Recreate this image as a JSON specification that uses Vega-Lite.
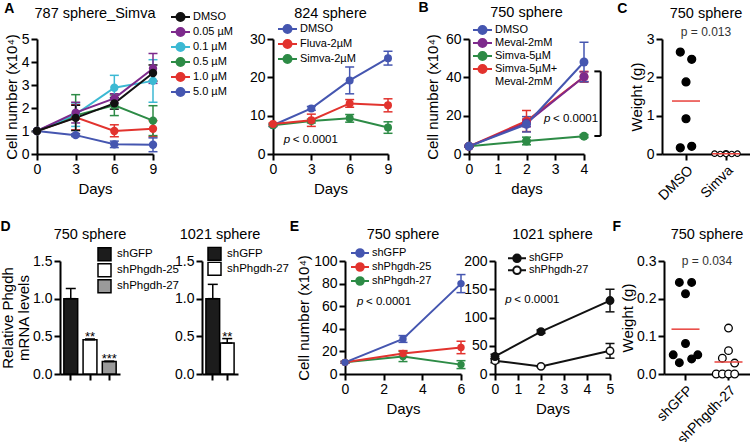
{
"$schema": "https://vega.github.io/schema/vega-lite/v6.json",
"padding": {"left": 0, "top": 0, "right": 0, "bottom": 0},
"spacing": 16,
"resolve": {"scale": {"color": "independent", "fill": "independent", "size": "independent", "xOffset": "independent"}, "legend": {"color": "independent", "fill": "independent", "size": "independent"}},
"config": {
  "font": "Liberation Sans",
  "view": {"stroke": null},
  "axis": {"grid": false, "domainColor": "#000", "domainWidth": 2, "tickColor": "#000", "tickWidth": 2, "tickSize": 6, "labelColor": "#000", "labelFontSize": 14, "labelPadding": 2, "titleColor": "#000", "titleFontSize": 15, "titleFontWeight": "normal", "titlePadding": 3},
  "legend": {"labelFontSize": 11, "labelColor": "#000", "padding": 0, "titlePadding": 0, "labelLimit": 300, "rowPadding": 0},
  "title": {"anchor": "start", "frame": "bounds", "fontSize": 14, "fontWeight": "bold", "color": "#000"},
  "text": {"color": "#000"}
},
"vconcat": [
{"hconcat": [
 {
  "width": 116, "height": 115,
  "title": {"text": "A", "offset": -10},
  "data": {"values": [
   {"t":"5.0 µM","d":0,"m":1,"lo":1,"hi":1},
   {"t":"5.0 µM","d":3,"m":0.82,"lo":0.76,"hi":0.88},
   {"t":"5.0 µM","d":6,"m":0.42,"lo":0.28,"hi":0.56},
   {"t":"5.0 µM","d":9,"m":0.4,"lo":0.1,"hi":0.7},
   {"t":"1.0 µM","d":0,"m":1,"lo":1,"hi":1},
   {"t":"1.0 µM","d":3,"m":1.6,"lo":1.05,"hi":2.15},
   {"t":"1.0 µM","d":6,"m":1.0,"lo":0.75,"hi":1.27},
   {"t":"1.0 µM","d":9,"m":1.1,"lo":0.75,"hi":1.45},
   {"t":"0.5 µM","d":0,"m":1,"lo":1,"hi":1},
   {"t":"0.5 µM","d":3,"m":1.68,"lo":0.8,"hi":2.58},
   {"t":"0.5 µM","d":6,"m":2.12,"lo":1.67,"hi":2.57},
   {"t":"0.5 µM","d":9,"m":1.45,"lo":0.8,"hi":2.1},
   {"t":"0.1 µM","d":0,"m":1,"lo":1,"hi":1},
   {"t":"0.1 µM","d":3,"m":1.72,"lo":1.2,"hi":2.22},
   {"t":"0.1 µM","d":6,"m":2.88,"lo":2.38,"hi":3.42},
   {"t":"0.1 µM","d":9,"m":3.18,"lo":2.25,"hi":4.1},
   {"t":"0.05 µM","d":0,"m":1,"lo":1,"hi":1},
   {"t":"0.05 µM","d":3,"m":1.8,"lo":1.35,"hi":2.25},
   {"t":"0.05 µM","d":6,"m":2.42,"lo":2.22,"hi":2.62},
   {"t":"0.05 µM","d":9,"m":3.72,"lo":3.07,"hi":4.37},
   {"t":"DMSO","d":0,"m":1,"lo":1,"hi":1},
   {"t":"DMSO","d":3,"m":1.57,"lo":1.02,"hi":2.12},
   {"t":"DMSO","d":6,"m":2.2,"lo":1.95,"hi":2.45},
   {"t":"DMSO","d":9,"m":3.52,"lo":3.17,"hi":3.87}
  ]},
  "layer": [
   {"mark": {"type":"errorbar","ticks":true,"size":9,"thickness":1.5,"opacity":1},
    "encoding": {
     "x": {"field":"d","type":"quantitative","scale":{"domain":[0,9],"nice":false},"axis":{"values":[0,3,6,9],"labelFlush":false,"titlePadding":5},"title":"Days"},
     "y": {"field":"lo","type":"quantitative","scale":{"domain":[0,5],"nice":false},"axis":{"values":[0,1,2,3,4,5],"titlePadding":2},"title":"Cell number (x10⁴)"},
     "y2": {"field":"hi"},
     "color": {"field":"t","type":"nominal","scale":{"domain":["DMSO","0.05 µM","0.1 µM","0.5 µM","1.0 µM","5.0 µM"],"range":["#111111","#7D2A8C","#3CB9D3","#2D8B46","#E2332E","#4556B0"]},
       "legend":{"orient":"none","legendX":133,"legendY":-29.25,"clipHeight":14.5,"title":null,"symbolType":"M-1,0L-0.42,0M0.42,0L1,0M-0.42,0A0.42,0.42,0,1,0,0.42,0A0.42,0.42,0,1,0,-0.42,0Z","symbolSize":361,"symbolStrokeWidth":2,"labelOffset":2,"labelFontSize":11,
        "encode":{"symbols":{"update":{"fill":{"signal":"['#111111','#7D2A8C','#3CB9D3','#2D8B46','#E2332E','#4556B0'][indexof(['DMSO','0.05 µM','0.1 µM','0.5 µM','1.0 µM','5.0 µM'], datum.value)]"},"stroke":{"signal":"['#111111','#7D2A8C','#3CB9D3','#2D8B46','#E2332E','#4556B0'][indexof(['DMSO','0.05 µM','0.1 µM','0.5 µM','1.0 µM','5.0 µM'], datum.value)]"}}}}}}
    }},
   {"mark": {"type":"line","strokeWidth":2},
    "encoding": {
     "x": {"field":"d","type":"quantitative","scale":{"domain":[0,9],"nice":false},"axis":{"values":[0,3,6,9],"labelFlush":false,"titlePadding":5},"title":"Days"},
     "y": {"field":"m","type":"quantitative","scale":{"domain":[0,5],"nice":false},"axis":{"values":[0,1,2,3,4,5],"titlePadding":2},"title":"Cell number (x10⁴)"},
     "color": {"field":"t","type":"nominal","scale":{"domain":["DMSO","0.05 µM","0.1 µM","0.5 µM","1.0 µM","5.0 µM"],"range":["#111111","#7D2A8C","#3CB9D3","#2D8B46","#E2332E","#4556B0"]},
       "legend":{"orient":"none","legendX":133,"legendY":-29.25,"clipHeight":14.5,"title":null,"symbolType":"M-1,0L-0.42,0M0.42,0L1,0M-0.42,0A0.42,0.42,0,1,0,0.42,0A0.42,0.42,0,1,0,-0.42,0Z","symbolSize":361,"symbolStrokeWidth":2,"labelOffset":2,"labelFontSize":11,
        "encode":{"symbols":{"update":{"fill":{"signal":"['#111111','#7D2A8C','#3CB9D3','#2D8B46','#E2332E','#4556B0'][indexof(['DMSO','0.05 µM','0.1 µM','0.5 µM','1.0 µM','5.0 µM'], datum.value)]"},"stroke":{"signal":"['#111111','#7D2A8C','#3CB9D3','#2D8B46','#E2332E','#4556B0'][indexof(['DMSO','0.05 µM','0.1 µM','0.5 µM','1.0 µM','5.0 µM'], datum.value)]"}}}}}}
    }},
   {"mark": {"type":"point","filled":true,"size":70,"opacity":1},
    "encoding": {
     "x": {"field":"d","type":"quantitative","scale":{"domain":[0,9],"nice":false},"axis":{"values":[0,3,6,9],"labelFlush":false,"titlePadding":5},"title":"Days"},
     "y": {"field":"m","type":"quantitative","scale":{"domain":[0,5],"nice":false},"axis":{"values":[0,1,2,3,4,5],"titlePadding":2},"title":"Cell number (x10⁴)"},
     "color": {"field":"t","type":"nominal","scale":{"domain":["DMSO","0.05 µM","0.1 µM","0.5 µM","1.0 µM","5.0 µM"],"range":["#111111","#7D2A8C","#3CB9D3","#2D8B46","#E2332E","#4556B0"]},
       "legend":{"orient":"none","legendX":133,"legendY":-29.25,"clipHeight":14.5,"title":null,"symbolType":"M-1,0L-0.42,0M0.42,0L1,0M-0.42,0A0.42,0.42,0,1,0,0.42,0A0.42,0.42,0,1,0,-0.42,0Z","symbolSize":361,"symbolStrokeWidth":2,"labelOffset":2,"labelFontSize":11,
        "encode":{"symbols":{"update":{"fill":{"signal":"['#111111','#7D2A8C','#3CB9D3','#2D8B46','#E2332E','#4556B0'][indexof(['DMSO','0.05 µM','0.1 µM','0.5 µM','1.0 µM','5.0 µM'], datum.value)]"},"stroke":{"signal":"['#111111','#7D2A8C','#3CB9D3','#2D8B46','#E2332E','#4556B0'][indexof(['DMSO','0.05 µM','0.1 µM','0.5 µM','1.0 µM','5.0 µM'], datum.value)]"}}}}}}
    }},
   {"data": {"values":[{"label":"787 sphere_Simva"}]},
    "mark": {"type":"text","fontSize":14.5,"baseline":"alphabetic"},
    "encoding": {"text":{"field":"label"},"y":{"datum":5.91,"type":"quantitative","scale":{"domain":[0,5],"nice":false},"axis":{"values":[0,1,2,3,4,5],"titlePadding":2},"title":"Cell number (x10⁴)"}}}
  ]
 },
 {"width": 120, "height": 10, "data": {"values": []}, "mark": "point", "encoding": {}},
 {
  "width": 115, "height": 115,
  "data": {"values": [
   {"t":"DMSO","d":0,"m":7.5,"lo":7.2,"hi":7.8},
   {"t":"DMSO","d":3,"m":11.9,"lo":11.4,"hi":12.4},
   {"t":"DMSO","d":6,"m":19.2,"lo":15.7,"hi":22.7},
   {"t":"DMSO","d":9,"m":25.0,"lo":23.2,"hi":26.8},
   {"t":"Simva-2µM","d":0,"m":7.5,"lo":7.2,"hi":7.8},
   {"t":"Simva-2µM","d":3,"m":8.6,"lo":8.1,"hi":9.1},
   {"t":"Simva-2µM","d":6,"m":9.3,"lo":8.3,"hi":10.3},
   {"t":"Simva-2µM","d":9,"m":6.9,"lo":5.4,"hi":8.4},
   {"t":"Fluva-2µM","d":0,"m":7.8,"lo":7.5,"hi":8.1},
   {"t":"Fluva-2µM","d":3,"m":8.8,"lo":7.2,"hi":10.4},
   {"t":"Fluva-2µM","d":6,"m":13.2,"lo":12.2,"hi":14.2},
   {"t":"Fluva-2µM","d":9,"m":12.7,"lo":11.0,"hi":14.4}
  ]},
  "layer": [
   {"mark": {"type":"errorbar","ticks":true,"size":9,"thickness":1.5,"opacity":1},
    "encoding": {
     "x": {"field":"d","type":"quantitative","scale":{"domain":[0,9],"nice":false},"axis":{"values":[0,3,6,9],"labelFlush":false,"titlePadding":5},"title":"Days"},
     "y": {"field":"lo","type":"quantitative","scale":{"domain":[0,30],"nice":false},"axis":{"values":[0,10,20,30]},"title":null},
     "y2": {"field":"hi"},
     "color": {"field":"t","type":"nominal","scale":{"domain":["DMSO","Fluva-2µM","Simva-2µM"],"range":["#4556B0","#E2332E","#2D8B46"]},
       "legend":{"orient":"none","legendX":4,"legendY":-17.25,"clipHeight":14.5,"title":null,"symbolType":"M-1,0L-0.42,0M0.42,0L1,0M-0.42,0A0.42,0.42,0,1,0,0.42,0A0.42,0.42,0,1,0,-0.42,0Z","symbolSize":361,"symbolStrokeWidth":2,"labelOffset":2,"labelFontSize":11,
        "encode":{"symbols":{"update":{"fill":{"signal":"['#4556B0','#E2332E','#2D8B46'][indexof(['DMSO','Fluva-2µM','Simva-2µM'], datum.value)]"},"stroke":{"signal":"['#4556B0','#E2332E','#2D8B46'][indexof(['DMSO','Fluva-2µM','Simva-2µM'], datum.value)]"}}}}}}
    }},
   {"mark": {"type":"line","strokeWidth":2},
    "encoding": {
     "x": {"field":"d","type":"quantitative","scale":{"domain":[0,9],"nice":false},"axis":{"values":[0,3,6,9],"labelFlush":false,"titlePadding":5},"title":"Days"},
     "y": {"field":"m","type":"quantitative","scale":{"domain":[0,30],"nice":false},"axis":{"values":[0,10,20,30]},"title":null},
     "color": {"field":"t","type":"nominal","scale":{"domain":["DMSO","Fluva-2µM","Simva-2µM"],"range":["#4556B0","#E2332E","#2D8B46"]},
       "legend":{"orient":"none","legendX":4,"legendY":-17.25,"clipHeight":14.5,"title":null,"symbolType":"M-1,0L-0.42,0M0.42,0L1,0M-0.42,0A0.42,0.42,0,1,0,0.42,0A0.42,0.42,0,1,0,-0.42,0Z","symbolSize":361,"symbolStrokeWidth":2,"labelOffset":2,"labelFontSize":11,
        "encode":{"symbols":{"update":{"fill":{"signal":"['#4556B0','#E2332E','#2D8B46'][indexof(['DMSO','Fluva-2µM','Simva-2µM'], datum.value)]"},"stroke":{"signal":"['#4556B0','#E2332E','#2D8B46'][indexof(['DMSO','Fluva-2µM','Simva-2µM'], datum.value)]"}}}}}}
    }},
   {"mark": {"type":"point","filled":true,"size":64,"opacity":1},
    "encoding": {
     "x": {"field":"d","type":"quantitative","scale":{"domain":[0,9],"nice":false},"axis":{"values":[0,3,6,9],"labelFlush":false,"titlePadding":5},"title":"Days"},
     "y": {"field":"m","type":"quantitative","scale":{"domain":[0,30],"nice":false},"axis":{"values":[0,10,20,30]},"title":null},
     "color": {"field":"t","type":"nominal","scale":{"domain":["DMSO","Fluva-2µM","Simva-2µM"],"range":["#4556B0","#E2332E","#2D8B46"]},
       "legend":{"orient":"none","legendX":4,"legendY":-17.25,"clipHeight":14.5,"title":null,"symbolType":"M-1,0L-0.42,0M0.42,0L1,0M-0.42,0A0.42,0.42,0,1,0,0.42,0A0.42,0.42,0,1,0,-0.42,0Z","symbolSize":361,"symbolStrokeWidth":2,"labelOffset":2,"labelFontSize":11,
        "encode":{"symbols":{"update":{"fill":{"signal":"['#4556B0','#E2332E','#2D8B46'][indexof(['DMSO','Fluva-2µM','Simva-2µM'], datum.value)]"},"stroke":{"signal":"['#4556B0','#E2332E','#2D8B46'][indexof(['DMSO','Fluva-2µM','Simva-2µM'], datum.value)]"}}}}}}
    }},
   {"data": {"values":[{"label":"824 sphere"}]},
    "mark": {"type":"text","fontSize":14.5,"baseline":"alphabetic"},
    "encoding": {"text":{"field":"label"},"y":{"datum":35.48,"type":"quantitative","scale":{"domain":[0,30],"nice":false},"axis":{"values":[0,10,20,30]},"title":null}}},
   {"data": {"values":[{"a":"p","b":"< 0.0001"}]},
    "layer": [
     {"mark": {"type":"text","fontSize":11.5,"fontStyle":"italic","align":"left","baseline":"middle"},
      "encoding": {"text":{"field":"a"},"x":{"datum":0.84,"type":"quantitative","scale":{"domain":[0,9],"nice":false},"axis":{"values":[0,3,6,9],"labelFlush":false,"titlePadding":5},"title":"Days"},"y":{"datum":3.57,"type":"quantitative","scale":{"domain":[0,30],"nice":false},"axis":{"values":[0,10,20,30]},"title":null}}},
     {"mark": {"type":"text","fontSize":11.5,"align":"left","baseline":"middle","dx":9},
      "encoding": {"text":{"field":"b"},"x":{"datum":0.84,"type":"quantitative","scale":{"domain":[0,9],"nice":false},"axis":{"values":[0,3,6,9],"labelFlush":false,"titlePadding":5},"title":"Days"},"y":{"datum":3.57,"type":"quantitative","scale":{"domain":[0,30],"nice":false},"axis":{"values":[0,10,20,30]},"title":null}}}
    ]}
  ]
 },
 {"width": 81, "height": 10, "data": {"values": []}, "mark": "point", "encoding": {}},
 {
  "width": 115, "height": 115,
  "title": {"text": "B", "dx": -7, "offset": -10},
  "data": {"values": [
   {"t":"Simva-5µM","d":0,"m":4,"lo":3.5,"hi":4.5},
   {"t":"Simva-5µM","d":2,"m":6.8,"lo":4.8,"hi":8.8},
   {"t":"Simva-5µM","d":4,"m":9.3,"lo":8.5,"hi":10.1},
   {"t":"Simva-5µM+Meval-2mM","d":0,"m":4,"lo":3.5,"hi":4.5},
   {"t":"Simva-5µM+Meval-2mM","d":2,"m":17.2,"lo":11.7,"hi":22.7},
   {"t":"Simva-5µM+Meval-2mM","d":4,"m":40.3,"lo":37.5,"hi":43.1},
   {"t":"Meval-2mM","d":0,"m":4,"lo":3.5,"hi":4.5},
   {"t":"Meval-2mM","d":2,"m":16.2,"lo":14.2,"hi":18.2},
   {"t":"Meval-2mM","d":4,"m":40.3,"lo":37.8,"hi":42.8},
   {"t":"DMSO","d":0,"m":4,"lo":3.5,"hi":4.5},
   {"t":"DMSO","d":2,"m":15.5,"lo":11.5,"hi":19.5},
   {"t":"DMSO","d":4,"m":48,"lo":37.7,"hi":58.3}
  ]},
  "layer": [
   {"mark": {"type":"errorbar","ticks":true,"size":9,"thickness":1.5,"opacity":1},
    "encoding": {
     "x": {"field":"d","type":"quantitative","scale":{"domain":[0,4],"nice":false},"axis":{"values":[0,1,2,3,4],"labelFlush":false,"titlePadding":5},"title":"days"},
     "y": {"field":"lo","type":"quantitative","scale":{"domain":[0,60],"nice":false},"axis":{"values":[0,20,40,60],"titlePadding":5},"title":"Cell number (x10⁴)"},
     "y2": {"field":"hi"},
     "color": {"field":"t","type":"nominal","scale":{"domain":["DMSO","Meval-2mM","Simva-5µM","Simva-5µM+Meval-2mM"],"range":["#4556B0","#7D2A8C","#2D8B46","#E2332E"]},
       "legend":{"orient":"none","legendX":3,"legendY":-15.5,"clipHeight":13,"title":null,"symbolType":"M-1,0L-0.42,0M0.42,0L1,0M-0.42,0A0.42,0.42,0,1,0,0.42,0A0.42,0.42,0,1,0,-0.42,0Z","symbolSize":361,"symbolStrokeWidth":2,"labelOffset":2,"labelFontSize":11,"labelExpr":"datum.label == 'Simva-5µM+Meval-2mM' ? ['Simva-5µM+', 'Meval-2mM'] : datum.label",
        "encode":{"symbols":{"update":{"fill":{"signal":"['#4556B0','#7D2A8C','#2D8B46','#E2332E'][indexof(['DMSO','Meval-2mM','Simva-5µM','Simva-5µM+Meval-2mM'], datum.value)]"},"stroke":{"signal":"['#4556B0','#7D2A8C','#2D8B46','#E2332E'][indexof(['DMSO','Meval-2mM','Simva-5µM','Simva-5µM+Meval-2mM'], datum.value)]"}}}}}}
    }},
   {"mark": {"type":"line","strokeWidth":2},
    "encoding": {
     "x": {"field":"d","type":"quantitative","scale":{"domain":[0,4],"nice":false},"axis":{"values":[0,1,2,3,4],"labelFlush":false,"titlePadding":5},"title":"days"},
     "y": {"field":"m","type":"quantitative","scale":{"domain":[0,60],"nice":false},"axis":{"values":[0,20,40,60],"titlePadding":5},"title":"Cell number (x10⁴)"},
     "color": {"field":"t","type":"nominal","scale":{"domain":["DMSO","Meval-2mM","Simva-5µM","Simva-5µM+Meval-2mM"],"range":["#4556B0","#7D2A8C","#2D8B46","#E2332E"]},
       "legend":{"orient":"none","legendX":3,"legendY":-15.5,"clipHeight":13,"title":null,"symbolType":"M-1,0L-0.42,0M0.42,0L1,0M-0.42,0A0.42,0.42,0,1,0,0.42,0A0.42,0.42,0,1,0,-0.42,0Z","symbolSize":361,"symbolStrokeWidth":2,"labelOffset":2,"labelFontSize":11,"labelExpr":"datum.label == 'Simva-5µM+Meval-2mM' ? ['Simva-5µM+', 'Meval-2mM'] : datum.label",
        "encode":{"symbols":{"update":{"fill":{"signal":"['#4556B0','#7D2A8C','#2D8B46','#E2332E'][indexof(['DMSO','Meval-2mM','Simva-5µM','Simva-5µM+Meval-2mM'], datum.value)]"},"stroke":{"signal":"['#4556B0','#7D2A8C','#2D8B46','#E2332E'][indexof(['DMSO','Meval-2mM','Simva-5µM','Simva-5µM+Meval-2mM'], datum.value)]"}}}}}}
    }},
   {"mark": {"type":"point","filled":true,"size":80,"opacity":1},
    "encoding": {
     "x": {"field":"d","type":"quantitative","scale":{"domain":[0,4],"nice":false},"axis":{"values":[0,1,2,3,4],"labelFlush":false,"titlePadding":5},"title":"days"},
     "y": {"field":"m","type":"quantitative","scale":{"domain":[0,60],"nice":false},"axis":{"values":[0,20,40,60],"titlePadding":5},"title":"Cell number (x10⁴)"},
     "color": {"field":"t","type":"nominal","scale":{"domain":["DMSO","Meval-2mM","Simva-5µM","Simva-5µM+Meval-2mM"],"range":["#4556B0","#7D2A8C","#2D8B46","#E2332E"]},
       "legend":{"orient":"none","legendX":3,"legendY":-15.5,"clipHeight":13,"title":null,"symbolType":"M-1,0L-0.42,0M0.42,0L1,0M-0.42,0A0.42,0.42,0,1,0,0.42,0A0.42,0.42,0,1,0,-0.42,0Z","symbolSize":361,"symbolStrokeWidth":2,"labelOffset":2,"labelFontSize":11,"labelExpr":"datum.label == 'Simva-5µM+Meval-2mM' ? ['Simva-5µM+', 'Meval-2mM'] : datum.label",
        "encode":{"symbols":{"update":{"fill":{"signal":"['#4556B0','#7D2A8C','#2D8B46','#E2332E'][indexof(['DMSO','Meval-2mM','Simva-5µM','Simva-5µM+Meval-2mM'], datum.value)]"},"stroke":{"signal":"['#4556B0','#7D2A8C','#2D8B46','#E2332E'][indexof(['DMSO','Meval-2mM','Simva-5µM','Simva-5µM+Meval-2mM'], datum.value)]"}}}}}}
    }},
   {"data": {"values":[{}]},
    "mark": {"type":"rule","strokeWidth":2,"color":"#000"},
    "encoding": {"x":{"datum":4.58,"type":"quantitative","scale":{"domain":[0,4],"nice":false},"axis":{"values":[0,1,2,3,4],"labelFlush":false,"titlePadding":5},"title":"days"},"y":{"datum":9.4,"type":"quantitative","scale":{"domain":[0,60],"nice":false},"axis":{"values":[0,20,40,60],"titlePadding":5},"title":"Cell number (x10⁴)"},"y2":{"datum":43.1}}},
   {"data": {"values":[{}]},
    "mark": {"type":"rule","strokeWidth":2,"color":"#000"},
    "encoding": {"x":{"datum":4.36,"type":"quantitative","scale":{"domain":[0,4],"nice":false},"axis":{"values":[0,1,2,3,4],"labelFlush":false,"titlePadding":5},"title":"days"},"x2":{"datum":4.58},"y":{"datum":43.1,"type":"quantitative","scale":{"domain":[0,60],"nice":false},"axis":{"values":[0,20,40,60],"titlePadding":5},"title":"Cell number (x10⁴)"}}},
   {"data": {"values":[{}]},
    "mark": {"type":"rule","strokeWidth":2,"color":"#000"},
    "encoding": {"x":{"datum":4.36,"type":"quantitative","scale":{"domain":[0,4],"nice":false},"axis":{"values":[0,1,2,3,4],"labelFlush":false,"titlePadding":5},"title":"days"},"x2":{"datum":4.58},"y":{"datum":9.4,"type":"quantitative","scale":{"domain":[0,60],"nice":false},"axis":{"values":[0,20,40,60],"titlePadding":5},"title":"Cell number (x10⁴)"}}},
   {"data": {"values":[{"label":"750 sphere"}]},
    "mark": {"type":"text","fontSize":14.5,"baseline":"alphabetic"},
    "encoding": {"text":{"field":"label"},"y":{"datum":71.48,"type":"quantitative","scale":{"domain":[0,60],"nice":false},"axis":{"values":[0,20,40,60],"titlePadding":5},"title":"Cell number (x10⁴)"}}},
   {"data": {"values":[{"a":"p","b":"< 0.0001"}]},
    "layer": [
     {"mark": {"type":"text","fontSize":11.5,"fontStyle":"italic","align":"left","baseline":"middle"},
      "encoding": {"text":{"field":"a"},"x":{"datum":2.61,"type":"quantitative","scale":{"domain":[0,4],"nice":false},"axis":{"values":[0,1,2,3,4],"labelFlush":false,"titlePadding":5},"title":"days"},"y":{"datum":18.4,"type":"quantitative","scale":{"domain":[0,60],"nice":false},"axis":{"values":[0,20,40,60],"titlePadding":5},"title":"Cell number (x10⁴)"}}},
     {"mark": {"type":"text","fontSize":11.5,"align":"left","baseline":"middle","dx":9},
      "encoding": {"text":{"field":"b"},"x":{"datum":2.61,"type":"quantitative","scale":{"domain":[0,4],"nice":false},"axis":{"values":[0,1,2,3,4],"labelFlush":false,"titlePadding":5},"title":"days"},"y":{"datum":18.4,"type":"quantitative","scale":{"domain":[0,60],"nice":false},"axis":{"values":[0,20,40,60],"titlePadding":5},"title":"Cell number (x10⁴)"}}}
    ]}
  ]
 },
 {"width": 78, "height": 10, "data": {"values": []}, "mark": "point", "encoding": {}},
 {
  "width": 88, "height": 115,
  "title": {"text": "C", "dx": -12, "offset": -10},
  "data": {"values": [
   {"g":"DMSO","s":"c","w":2.66},{"g":"DMSO","s":"e","w":2.47},{"g":"DMSO","s":"d","w":1.88},
   {"g":"DMSO","s":"d","w":0.92},{"g":"DMSO","s":"c","w":0.16},{"g":"DMSO","s":"e","w":0.2},
   {"g":"Simva","s":"b","w":0.01},{"g":"Simva","s":"c","w":0.0},{"g":"Simva","s":"d","w":0.02},
   {"g":"Simva","s":"e","w":0.0},{"g":"Simva","s":"f","w":0.01},{"g":"Simva","s":"d","w":0.0}
  ]},
  "layer": [
   {"mark": {"type":"point","filled":true,"stroke":"#000","strokeWidth":1.2,"opacity":1},
    "encoding": {
     "x": {"field":"g","type":"nominal","scale":{"domain":["DMSO","Simva"],"paddingInner":0,"paddingOuter":0.1},"axis":{"labelAngle":-45,"labelPadding":3},"title":null},
     "xOffset": {"field":"s","type":"nominal","scale":{"domain":["a","b","c","d","e","f","g"],"paddingInner":0,"paddingOuter":0.5}},
     "y": {"field":"w","type":"quantitative","scale":{"domain":[0,3],"nice":false},"axis":{"values":[0,1,2,3],"titlePadding":2},"title":"Weight (g)"},
     "fill": {"field":"g","type":"nominal","scale":{"domain":["DMSO","Simva"],"range":["#000000","#ffffff"]},"legend":null},
     "size": {"field":"g","type":"ordinal","scale":{"domain":["DMSO","Simva"],"range":[64,30]},"legend":null}
    }},
   {"mark": {"type":"tick","color":"#E8413C","thickness":1.5,"size":28,"opacity":1},
    "encoding": {
     "x": {"field":"g","type":"nominal","scale":{"domain":["DMSO","Simva"],"paddingInner":0,"paddingOuter":0.1},"axis":{"labelAngle":-45,"labelPadding":3},"title":null},
     "y": {"aggregate":"mean","field":"w","type":"quantitative","scale":{"domain":[0,3],"nice":false},"axis":{"values":[0,1,2,3],"titlePadding":2},"title":"Weight (g)"}
    }},
   {"data": {"values":[{"label":"750 sphere"}]},
    "mark": {"type":"text","fontSize":14.5,"baseline":"alphabetic"},
    "encoding": {"text":{"field":"label"},"y":{"datum":3.535,"type":"quantitative","scale":{"domain":[0,3],"nice":false},"axis":{"values":[0,1,2,3],"titlePadding":2},"title":"Weight (g)"}}},
   {"data": {"values":[{"label":"p = 0.013"}]},
    "mark": {"type":"text","fontSize":12,"baseline":"alphabetic","color":"#333"},
    "encoding": {"text":{"field":"label"},"y":{"datum":3.09,"type":"quantitative","scale":{"domain":[0,3],"nice":false},"axis":{"values":[0,1,2,3],"titlePadding":2},"title":"Weight (g)"}}}
  ]
 }
], "spacing": 0, "bounds": "flush",
 "resolve": {"scale": {"color": "independent", "fill": "independent", "size": "independent", "xOffset": "independent"}, "legend": {"color": "independent", "fill": "independent", "size": "independent"}}},
{"hconcat": [
 {"width": 23, "height": 10, "data": {"values": []}, "mark": "point", "encoding": {}},
 {
  "width": 60, "height": 113,
  "title": {"text": "D", "offset": -7},
  "data": {"values": [
   {"g":"shGFP","m":1.0,"hi":1.135,"s":""},
   {"g":"shPhgdh-25","m":0.455,"hi":0.465,"s":"**"},
   {"g":"shPhgdh-27","m":0.165,"hi":0.17,"s":"***"}
  ]},
  "layer": [
   {"mark": {"type":"bar","stroke":"#000","strokeWidth":1.5,"opacity":1},
    "encoding": {
     "x": {"field":"g","type":"nominal","scale":{"domain":["shGFP","shPhgdh-25","shPhgdh-27"],"paddingInner":0.28,"paddingOuter":0.2},"axis":{"labels":false},"title":null},
     "y": {"field":"m","type":"quantitative","scale":{"domain":[0,1.5],"nice":false},"axis":{"values":[0,0.5,1,1.5],"format":".1f","titlePadding":1,"titleLineHeight":16},"title":["Relative Phgdh","mRNA levels"]},
     "fill": {"field":"g","type":"nominal","scale":{"domain":["shGFP","shPhgdh-25","shPhgdh-27"],"range":["#1c1c1c","#ffffff","#9a9a9a"]},
       "legend":{"orient":"none","legendX":37,"legendY":-14.45,"clipHeight":15.5,"title":null,"symbolType":"square","symbolSize":169,"symbolStrokeWidth":1.5,"symbolStrokeColor":"#000","labelOffset":5,"labelFontSize":11.5}}
    }},
   {"mark": {"type":"errorbar","ticks":true,"size":10,"thickness":1.5,"color":"#000","opacity":1},
    "encoding": {
     "x": {"field":"g","type":"nominal","scale":{"domain":["shGFP","shPhgdh-25","shPhgdh-27"],"paddingInner":0.28,"paddingOuter":0.2},"axis":{"labels":false},"title":null},
     "y": {"field":"m","type":"quantitative","scale":{"domain":[0,1.5],"nice":false},"axis":{"values":[0,0.5,1,1.5],"format":".1f","titlePadding":1,"titleLineHeight":16},"title":["Relative Phgdh","mRNA levels"]},
     "y2": {"field":"hi"}
    }},
   {"mark": {"type":"text","fontSize":13,"baseline":"alphabetic","dy":2},
    "encoding": {
     "x": {"field":"g","type":"nominal","scale":{"domain":["shGFP","shPhgdh-25","shPhgdh-27"],"paddingInner":0.28,"paddingOuter":0.2},"axis":{"labels":false},"title":null},
     "y": {"field":"hi","type":"quantitative","scale":{"domain":[0,1.5],"nice":false},"axis":{"values":[0,0.5,1,1.5],"format":".1f","titlePadding":1,"titleLineHeight":16},"title":["Relative Phgdh","mRNA levels"]},
     "text": {"field":"s"}
    }},
   {"data": {"values":[{"label":"750 sphere"}]},
    "mark": {"type":"text","fontSize":14.5,"baseline":"alphabetic"},
    "encoding": {"text":{"field":"label"},"y":{"datum":1.792,"type":"quantitative","scale":{"domain":[0,1.5],"nice":false},"axis":{"values":[0,0.5,1,1.5],"format":".1f","titlePadding":1,"titleLineHeight":16},"title":["Relative Phgdh","mRNA levels"]}}}
  ]
 },
 {"width": 82, "height": 10, "data": {"values": []}, "mark": "point", "encoding": {}},
 {
  "width": 36, "height": 113,
  "data": {"values": [
   {"g":"shGFP","m":1.0,"hi":1.19,"s":""},
   {"g":"shPhgdh-27","m":0.41,"hi":0.47,"s":"**"}
  ]},
  "layer": [
   {"mark": {"type":"bar","stroke":"#000","strokeWidth":1.5,"opacity":1},
    "encoding": {
     "x": {"field":"g","type":"nominal","scale":{"domain":["shGFP","shPhgdh-27"],"paddingInner":0.05,"paddingOuter":0.27},"axis":{"labels":false},"title":null},
     "y": {"field":"m","type":"quantitative","scale":{"domain":[0,1.5],"nice":false},"axis":{"values":[0,0.5,1,1.5],"format":".1f"},"title":null},
     "fill": {"field":"g","type":"nominal","scale":{"domain":["shGFP","shPhgdh-27"],"range":["#1c1c1c","#ffffff"]},
       "legend":{"orient":"none","legendX":5,"legendY":-14.6,"clipHeight":14.6,"title":null,"symbolType":"square","symbolSize":169,"symbolStrokeWidth":1.5,"symbolStrokeColor":"#000","labelOffset":5,"labelFontSize":11.5}}
    }},
   {"mark": {"type":"errorbar","ticks":true,"size":10,"thickness":1.5,"color":"#000","opacity":1},
    "encoding": {
     "x": {"field":"g","type":"nominal","scale":{"domain":["shGFP","shPhgdh-27"],"paddingInner":0.05,"paddingOuter":0.27},"axis":{"labels":false},"title":null},
     "y": {"field":"m","type":"quantitative","scale":{"domain":[0,1.5],"nice":false},"axis":{"values":[0,0.5,1,1.5],"format":".1f"},"title":null},
     "y2": {"field":"hi"}
    }},
   {"mark": {"type":"text","fontSize":13,"baseline":"alphabetic","dy":2},
    "encoding": {
     "x": {"field":"g","type":"nominal","scale":{"domain":["shGFP","shPhgdh-27"],"paddingInner":0.05,"paddingOuter":0.27},"axis":{"labels":false},"title":null},
     "y": {"field":"hi","type":"quantitative","scale":{"domain":[0,1.5],"nice":false},"axis":{"values":[0,0.5,1,1.5],"format":".1f"},"title":null},
     "text": {"field":"s"}
    }},
   {"data": {"values":[{"label":"1021 sphere"}]},
    "mark": {"type":"text","fontSize":14.5,"baseline":"alphabetic"},
    "encoding": {"text":{"field":"label"},"y":{"datum":1.792,"type":"quantitative","scale":{"domain":[0,1.5],"nice":false},"axis":{"values":[0,0.5,1,1.5],"format":".1f"},"title":null}}}
  ]
 },
 {"width": 107, "height": 10, "data": {"values": []}, "mark": "point", "encoding": {}},
 {
  "width": 116, "height": 113,
  "title": {"text": "E", "dx": -7, "offset": -7},
  "data": {"values": [
   {"t":"shPhgdh-27","d":0,"m":10.3,"lo":9.5,"hi":11.1},
   {"t":"shPhgdh-27","d":3,"m":15.5,"lo":11,"hi":20},
   {"t":"shPhgdh-27","d":6,"m":8.3,"lo":4.8,"hi":11.8},
   {"t":"shPhgdh-25","d":0,"m":10.3,"lo":9.5,"hi":11.1},
   {"t":"shPhgdh-25","d":3,"m":18.2,"lo":15.7,"hi":20.7},
   {"t":"shPhgdh-25","d":6,"m":23.5,"lo":18,"hi":29},
   {"t":"shGFP","d":0,"m":10.3,"lo":9.5,"hi":11.1},
   {"t":"shGFP","d":3,"m":31,"lo":28,"hi":34},
   {"t":"shGFP","d":6,"m":80,"lo":72,"hi":88}
  ]},
  "layer": [
   {"mark": {"type":"errorbar","ticks":true,"size":9,"thickness":1.5,"opacity":1},
    "encoding": {
     "x": {"field":"d","type":"quantitative","scale":{"domain":[0,6],"nice":false},"axis":{"values":[0,2,4,6],"labelFlush":false,"titlePadding":5},"title":"Days"},
     "y": {"field":"lo","type":"quantitative","scale":{"domain":[0,100],"nice":false},"axis":{"values":[0,20,40,60,80,100],"titlePadding":2},"title":"Cell number (x10⁴)"},
     "y2": {"field":"hi"},
     "color": {"field":"t","type":"nominal","scale":{"domain":["shGFP","shPhgdh-25","shPhgdh-27"],"range":["#4556B0","#E2332E","#2D8B46"]},
       "legend":{"orient":"none","legendX":5,"legendY":-14.65,"clipHeight":13.3,"title":null,"symbolType":"M-1,0L-0.42,0M0.42,0L1,0M-0.42,0A0.42,0.42,0,1,0,0.42,0A0.42,0.42,0,1,0,-0.42,0Z","symbolSize":324,"symbolStrokeWidth":2,"labelOffset":2,"labelFontSize":11,
        "encode":{"symbols":{"update":{"fill":{"signal":"['#4556B0','#E2332E','#2D8B46'][indexof(['shGFP','shPhgdh-25','shPhgdh-27'], datum.value)]"},"stroke":{"signal":"['#4556B0','#E2332E','#2D8B46'][indexof(['shGFP','shPhgdh-25','shPhgdh-27'], datum.value)]"}}}}}}
    }},
   {"mark": {"type":"line","strokeWidth":2},
    "encoding": {
     "x": {"field":"d","type":"quantitative","scale":{"domain":[0,6],"nice":false},"axis":{"values":[0,2,4,6],"labelFlush":false,"titlePadding":5},"title":"Days"},
     "y": {"field":"m","type":"quantitative","scale":{"domain":[0,100],"nice":false},"axis":{"values":[0,20,40,60,80,100],"titlePadding":2},"title":"Cell number (x10⁴)"},
     "color": {"field":"t","type":"nominal","scale":{"domain":["shGFP","shPhgdh-25","shPhgdh-27"],"range":["#4556B0","#E2332E","#2D8B46"]},
       "legend":{"orient":"none","legendX":5,"legendY":-14.65,"clipHeight":13.3,"title":null,"symbolType":"M-1,0L-0.42,0M0.42,0L1,0M-0.42,0A0.42,0.42,0,1,0,0.42,0A0.42,0.42,0,1,0,-0.42,0Z","symbolSize":324,"symbolStrokeWidth":2,"labelOffset":2,"labelFontSize":11,
        "encode":{"symbols":{"update":{"fill":{"signal":"['#4556B0','#E2332E','#2D8B46'][indexof(['shGFP','shPhgdh-25','shPhgdh-27'], datum.value)]"},"stroke":{"signal":"['#4556B0','#E2332E','#2D8B46'][indexof(['shGFP','shPhgdh-25','shPhgdh-27'], datum.value)]"}}}}}}
    }},
   {"mark": {"type":"point","filled":true,"size":55,"opacity":1},
    "encoding": {
     "x": {"field":"d","type":"quantitative","scale":{"domain":[0,6],"nice":false},"axis":{"values":[0,2,4,6],"labelFlush":false,"titlePadding":5},"title":"Days"},
     "y": {"field":"m","type":"quantitative","scale":{"domain":[0,100],"nice":false},"axis":{"values":[0,20,40,60,80,100],"titlePadding":2},"title":"Cell number (x10⁴)"},
     "color": {"field":"t","type":"nominal","scale":{"domain":["shGFP","shPhgdh-25","shPhgdh-27"],"range":["#4556B0","#E2332E","#2D8B46"]},
       "legend":{"orient":"none","legendX":5,"legendY":-14.65,"clipHeight":13.3,"title":null,"symbolType":"M-1,0L-0.42,0M0.42,0L1,0M-0.42,0A0.42,0.42,0,1,0,0.42,0A0.42,0.42,0,1,0,-0.42,0Z","symbolSize":324,"symbolStrokeWidth":2,"labelOffset":2,"labelFontSize":11,
        "encode":{"symbols":{"update":{"fill":{"signal":"['#4556B0','#E2332E','#2D8B46'][indexof(['shGFP','shPhgdh-25','shPhgdh-27'], datum.value)]"},"stroke":{"signal":"['#4556B0','#E2332E','#2D8B46'][indexof(['shGFP','shPhgdh-25','shPhgdh-27'], datum.value)]"}}}}}}
    }},
   {"data": {"values":[{"label":"750 sphere"}]},
    "mark": {"type":"text","fontSize":14.5,"baseline":"alphabetic"},
    "encoding": {"text":{"field":"label"},"y":{"datum":119.5,"type":"quantitative","scale":{"domain":[0,100],"nice":false},"axis":{"values":[0,20,40,60,80,100],"titlePadding":2},"title":"Cell number (x10⁴)"}}},
   {"data": {"values":[{"a":"p","b":"< 0.0001"}]},
    "layer": [
     {"mark": {"type":"text","fontSize":11.5,"fontStyle":"italic","align":"left","baseline":"middle"},
      "encoding": {"text":{"field":"a"},"x":{"datum":0.62,"type":"quantitative","scale":{"domain":[0,6],"nice":false},"axis":{"values":[0,2,4,6],"labelFlush":false,"titlePadding":5},"title":"Days"},"y":{"datum":64,"type":"quantitative","scale":{"domain":[0,100],"nice":false},"axis":{"values":[0,20,40,60,80,100],"titlePadding":2},"title":"Cell number (x10⁴)"}}},
     {"mark": {"type":"text","fontSize":11.5,"align":"left","baseline":"middle","dx":9},
      "encoding": {"text":{"field":"b"},"x":{"datum":0.62,"type":"quantitative","scale":{"domain":[0,6],"nice":false},"axis":{"values":[0,2,4,6],"labelFlush":false,"titlePadding":5},"title":"Days"},"y":{"datum":64,"type":"quantitative","scale":{"domain":[0,100],"nice":false},"axis":{"values":[0,20,40,60,80,100],"titlePadding":2},"title":"Cell number (x10⁴)"}}}
    ]}
  ]
 },
 {"width": 34, "height": 10, "data": {"values": []}, "mark": "point", "encoding": {}},
 {
  "width": 115, "height": 113,
  "data": {"values": [
   {"t":"shPhgdh-27","d":0,"m":23.5,"lo":20,"hi":27},
   {"t":"shPhgdh-27","d":2,"m":13.5,"lo":12.5,"hi":14.5},
   {"t":"shPhgdh-27","d":5,"m":41,"lo":28,"hi":54},
   {"t":"shGFP","d":0,"m":31,"lo":27,"hi":35},
   {"t":"shGFP","d":2,"m":75,"lo":72,"hi":78},
   {"t":"shGFP","d":5,"m":130,"lo":110,"hi":150}
  ]},
  "layer": [
   {"mark": {"type":"errorbar","ticks":true,"size":9,"thickness":1.5,"color":"#111111","opacity":1},
    "encoding": {
     "x": {"field":"d","type":"quantitative","scale":{"domain":[0,5],"nice":false},"axis":{"values":[0,1,2,3,4,5],"labelFlush":false,"titlePadding":5},"title":"Days"},
     "y": {"field":"lo","type":"quantitative","scale":{"domain":[0,200],"nice":false},"axis":{"values":[0,50,100,150,200]},"title":null},
     "y2": {"field":"hi"}
    }},
   {"mark": {"type":"line","strokeWidth":2,"color":"#111111"},
    "encoding": {
     "x": {"field":"d","type":"quantitative","scale":{"domain":[0,5],"nice":false},"axis":{"values":[0,1,2,3,4,5],"labelFlush":false,"titlePadding":5},"title":"Days"},
     "y": {"field":"m","type":"quantitative","scale":{"domain":[0,200],"nice":false},"axis":{"values":[0,50,100,150,200]},"title":null},
     "detail": {"field":"t"}
    }},
   {"mark": {"type":"point","filled":true,"size":55,"stroke":"#111111","strokeWidth":1.5,"opacity":1},
    "encoding": {
     "x": {"field":"d","type":"quantitative","scale":{"domain":[0,5],"nice":false},"axis":{"values":[0,1,2,3,4,5],"labelFlush":false,"titlePadding":5},"title":"Days"},
     "y": {"field":"m","type":"quantitative","scale":{"domain":[0,200],"nice":false},"axis":{"values":[0,50,100,150,200]},"title":null},
     "fill": {"field":"t","type":"nominal","scale":{"domain":["shGFP","shPhgdh-27"],"range":["#111111","#ffffff"]},
       "legend":{"orient":"none","legendX":12,"legendY":-8.7,"clipHeight":12,"title":null,"symbolType":"M-1,0L-0.42,0M0.42,0L1,0M-0.42,0A0.42,0.42,0,1,0,0.42,0A0.42,0.42,0,1,0,-0.42,0Z","symbolSize":324,"symbolStrokeWidth":2,"symbolStrokeColor":"#111111","labelOffset":2,"labelFontSize":11}}
    }},
   {"data": {"values":[{"label":"1021 sphere"}]},
    "mark": {"type":"text","fontSize":14.5,"baseline":"alphabetic"},
    "encoding": {"text":{"field":"label"},"y":{"datum":238.9,"type":"quantitative","scale":{"domain":[0,200],"nice":false},"axis":{"values":[0,50,100,150,200]},"title":null}}},
   {"data": {"values":[{"a":"p","b":"< 0.0001"}]},
    "layer": [
     {"mark": {"type":"text","fontSize":11.5,"fontStyle":"italic","align":"left","baseline":"middle"},
      "encoding": {"text":{"field":"a"},"x":{"datum":0.45,"type":"quantitative","scale":{"domain":[0,5],"nice":false},"axis":{"values":[0,1,2,3,4,5],"labelFlush":false,"titlePadding":5},"title":"Days"},"y":{"datum":130.4,"type":"quantitative","scale":{"domain":[0,200],"nice":false},"axis":{"values":[0,50,100,150,200]},"title":null}}},
     {"mark": {"type":"text","fontSize":11.5,"align":"left","baseline":"middle","dx":9},
      "encoding": {"text":{"field":"b"},"x":{"datum":0.45,"type":"quantitative","scale":{"domain":[0,5],"nice":false},"axis":{"values":[0,1,2,3,4,5],"labelFlush":false,"titlePadding":5},"title":"Days"},"y":{"datum":130.4,"type":"quantitative","scale":{"domain":[0,200],"nice":false},"axis":{"values":[0,50,100,150,200]},"title":null}}}
    ]}
  ]
 },
 {"width": 54, "height": 10, "data": {"values": []}, "mark": "point", "encoding": {}},
 {
  "width": 86, "height": 113,
  "title": {"text": "F", "dx": -8, "offset": -7},
  "data": {"values": [
   {"g":"shGFP","s":"c","w":0.243},{"g":"shGFP","s":"e","w":0.243},{"g":"shGFP","s":"d","w":0.213},
   {"g":"shGFP","s":"d","w":0.081},{"g":"shGFP","s":"b","w":0.051},{"g":"shGFP","s":"c","w":0.030},
   {"g":"shGFP","s":"e","w":0.040},{"g":"shGFP","s":"f","w":0.051},
   {"g":"shPhgdh-27","s":"d","w":0.122},{"g":"shPhgdh-27","s":"d","w":0.062},{"g":"shPhgdh-27","s":"c","w":0.042},
   {"g":"shPhgdh-27","s":"e","w":0.029},{"g":"shPhgdh-27","s":"b","w":0.0},{"g":"shPhgdh-27","s":"c","w":0.0},
   {"g":"shPhgdh-27","s":"d","w":0.0},{"g":"shPhgdh-27","s":"e","w":0.0}
  ]},
  "layer": [
   {"mark": {"type":"point","filled":true,"stroke":"#000","strokeWidth":1.3,"size":58,"opacity":1},
    "encoding": {
     "x": {"field":"g","type":"nominal","scale":{"domain":["shGFP","shPhgdh-27"],"paddingInner":0,"paddingOuter":0},"axis":{"labelAngle":-45,"labelPadding":3},"title":null},
     "xOffset": {"field":"s","type":"nominal","scale":{"domain":["a","b","c","d","e","f","g"],"paddingInner":0,"paddingOuter":0.5}},
     "y": {"field":"w","type":"quantitative","scale":{"domain":[0,0.3],"nice":false},"axis":{"values":[0,0.1,0.2,0.3],"format":".1f","titlePadding":1},"title":"Weight (g)"},
     "fill": {"field":"g","type":"nominal","scale":{"domain":["shGFP","shPhgdh-27"],"range":["#000000","#ffffff"]},"legend":null}
    }},
   {"mark": {"type":"tick","color":"#E8413C","thickness":1.5,"size":28,"opacity":1},
    "encoding": {
     "x": {"field":"g","type":"nominal","scale":{"domain":["shGFP","shPhgdh-27"],"paddingInner":0,"paddingOuter":0},"axis":{"labelAngle":-45,"labelPadding":3},"title":null},
     "y": {"aggregate":"mean","field":"w","type":"quantitative","scale":{"domain":[0,0.3],"nice":false},"axis":{"values":[0,0.1,0.2,0.3],"format":".1f","titlePadding":1},"title":"Weight (g)"}
    }},
   {"data": {"values":[{"label":"750 sphere"}]},
    "mark": {"type":"text","fontSize":14.5,"baseline":"alphabetic"},
    "encoding": {"text":{"field":"label"},"y":{"datum":0.358,"type":"quantitative","scale":{"domain":[0,0.3],"nice":false},"axis":{"values":[0,0.1,0.2,0.3],"format":".1f","titlePadding":1},"title":"Weight (g)"}}},
   {"data": {"values":[{"label":"p = 0.034"}]},
    "mark": {"type":"text","fontSize":12,"baseline":"alphabetic","color":"#333"},
    "encoding": {"text":{"field":"label"},"y":{"datum":0.2907,"type":"quantitative","scale":{"domain":[0,0.3],"nice":false},"axis":{"values":[0,0.1,0.2,0.3],"format":".1f","titlePadding":1},"title":"Weight (g)"}}}
  ]
 }
], "spacing": 0, "bounds": "flush",
 "resolve": {"scale": {"color": "independent", "fill": "independent", "size": "independent", "xOffset": "independent"}, "legend": {"color": "independent", "fill": "independent", "size": "independent"}}}
]
}
